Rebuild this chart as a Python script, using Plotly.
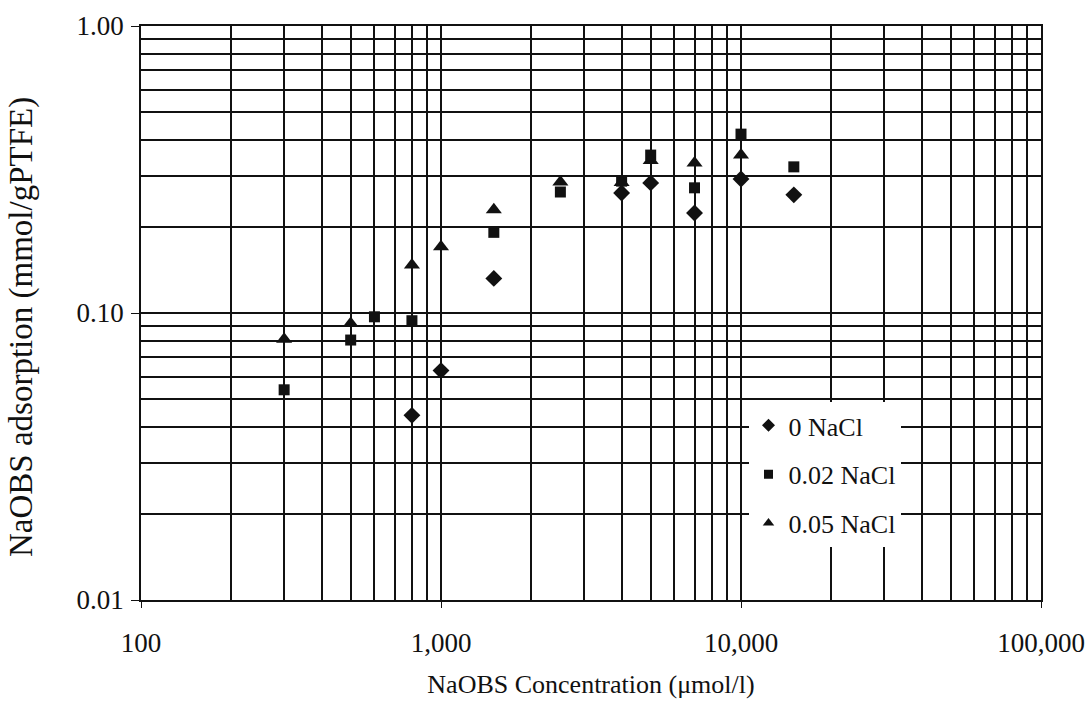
import plotly.graph_objects as go

# NaOBS concentration (umol/l) and adsorption (mmol/g PTFE) for each NaCl level
conc_0 = [800, 1000, 1500, 4000, 5000, 7000, 10000, 15000]
ads_0 = [0.044, 0.063, 0.132, 0.262, 0.284, 0.223, 0.293, 0.258]

conc_002 = [300, 500, 600, 800, 1500, 2500, 4000, 5000, 7000, 10000, 15000]
ads_002 = [0.054, 0.0805, 0.097, 0.094, 0.191, 0.264, 0.288, 0.355, 0.273, 0.42, 0.323]

conc_005 = [300, 500, 800, 1000, 1500, 2500, 4000, 5000, 7000, 10000]
ads_005 = [0.081, 0.092, 0.147, 0.170, 0.229, 0.286, 0.285, 0.34, 0.333, 0.355]

series_names = ["0 NaCl", "0.02 NaCl", "0.05 NaCl"]
x_ticks = [100, 1000, 10000, 100000]
x_tick_text = ["100", "1,000", "10,000", "100,000"]
y_ticks = [0.01, 0.1, 1.0]
y_tick_text = ["0.01", "0.10", "1.00"]

INK = "#111111"
FONT = "Liberation Serif"

x_minor = [m * 10 ** e for e in (2, 3, 4) for m in range(2, 10)]
y_minor = [m * 10 ** e for e in (-2, -1) for m in range(2, 10)]

fig = go.Figure()

series = [
    (conc_0, ads_0, "diamond", 13, 10),
    (conc_002, ads_002, "square", 11, 9),
    (conc_005, ads_005, "triangle-up", 14, 10),
]

for i, (xs, ys, sym, size, leg_size) in enumerate(series):
    fig.add_trace(go.Scatter(
        x=xs, y=ys, mode="markers", showlegend=False,
        marker=dict(symbol=sym, size=size, color=INK),
    ))
    # legend entry with a smaller symbol
    fig.add_trace(go.Scatter(
        x=[None], y=[None], mode="markers", name=series_names[i],
        legendgroup=f"g{i}",
        marker=dict(symbol=sym, size=leg_size, color=INK),
    ))

fig.update_layout(
    width=1088, height=726,
    margin=dict(l=141, r=47, t=26, b=126, autoexpand=False),
    paper_bgcolor="white", plot_bgcolor="white",
    font=dict(family=FONT, size=21, color=INK),
    legend=dict(
        x=0.675, y=0.345, xanchor="left", yanchor="top",
        bgcolor="white", borderwidth=0,
        traceorder="grouped", tracegroupgap=12,
        font=dict(family=FONT, size=26, color=INK),
    ),
    annotations=[dict(
        text="NaOBS adsorption (mmol/gPTFE)", textangle=-90,
        xref="paper", yref="paper", x=-0.132, y=0.476,
        xanchor="center", yanchor="middle", showarrow=False,
        font=dict(family=FONT, size=33, color=INK),
    )],
)

fig.update_xaxes(
    type="log", range=[2, 5], automargin=False,
    tickvals=x_ticks, ticktext=x_tick_text,
    showgrid=True, gridcolor=INK, gridwidth=1.6,
    showline=True, linecolor=INK, linewidth=1.6, mirror=True,
    ticks="outside", ticklen=6, tickcolor=INK,
    ticklabelstandoff=12,
    minor=dict(tickvals=x_minor, showgrid=True, gridcolor=INK, gridwidth=1.6, ticks=""),
    title=dict(text="NaOBS Concentration (μmol/l)", standoff=18,
               font=dict(family=FONT, size=26)),
    tickfont=dict(family=FONT, size=27),
    zeroline=False,
)

fig.update_yaxes(
    type="log", range=[-2, 0], automargin=False,
    tickvals=y_ticks, ticktext=y_tick_text,
    showgrid=True, gridcolor=INK, gridwidth=1.6,
    showline=True, linecolor=INK, linewidth=1.6, mirror=True,
    ticks="outside", ticklen=8, tickcolor=INK,
    ticklabelstandoff=2,
    minor=dict(tickvals=y_minor, showgrid=True, gridcolor=INK, gridwidth=1.6, ticks=""),
    tickfont=dict(family=FONT, size=27),
    zeroline=False,
)

fig.write_html("out.html")
